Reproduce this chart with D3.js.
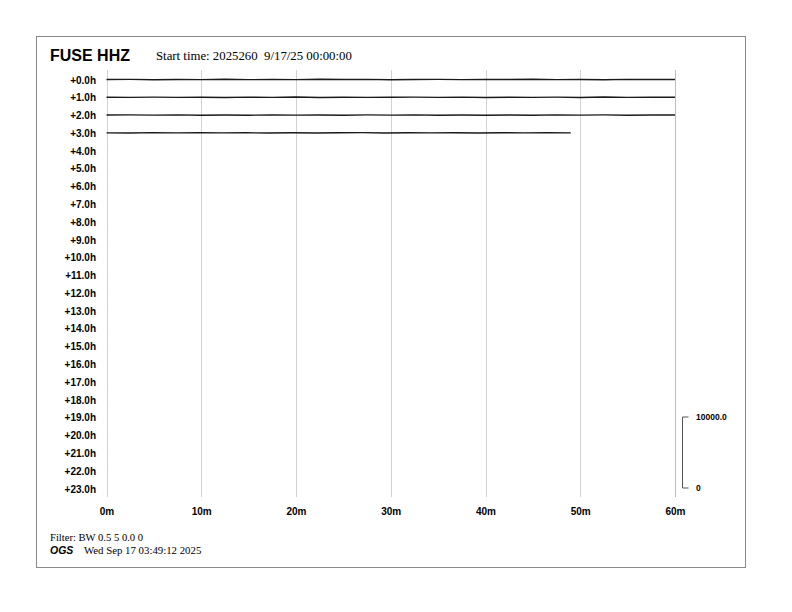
<!DOCTYPE html>
<html>
<head>
<meta charset="utf-8">
<script src="https://cdn.jsdelivr.net/npm/d3@7"></script>
<style>
  html, body { margin: 0; padding: 0; background: #fff; }
  svg { display: block; }
</style>
</head>
<body>
<svg id="chart" width="792" height="612"></svg>
<script>
// Station / header text
const station = "FUSE HHZ";
const startText = "Start time: 2025260  9/17/25 00:00:00";
const filterText = "Filter: BW 0.5 5 0.0 0";
const agency = "OGS";
const stampText = "Wed Sep 17 03:49:12 2025";

// Helicorder rows (hour offsets) and minute ticks
const hourRows = d3.range(0, 24);
const minuteTicks = [0, 10, 20, 30, 40, 50, 60];

// Minutes recorded in each hourly line
const traceMinutes = [60, 60, 60, 49];

// Amplitude samples (counts) along each recorded line
const traceCounts = [
  [0, 20, -30, 10, -20, 30, -20, 10, -20, 30, -10, 20, -30, 10, 20, -20, 10, -10, 30, -20, 10, -30, 20, -10, 0],
  [0, -10, 20, -20, 10, -30, 20, -10, 30, -20, 10, -20, 10, 20, -10, 20, -30, 10, -10, 20, -20, 30, -10, 10, 0],
  [0, 20, -10, 20, -30, 10, -20, 30, -10, 10, -20, 20, -10, 30, -20, 10, -20, 10, -30, 20, -10, 20, -20, 10, 0],
  [0, -20, 30, -10, 20, -10, 20, -30, 10, -20, 10, 30, -20, 10, -10, 20, -30, 20, -10, 10, 0]
];

// Amplitude scale bar
const scaleCounts = [0, 10000];
const scaleLabels = ["0", "10000.0"];

const sans = "'Liberation Sans', Arial, Helvetica, sans-serif";
const serif = "'Liberation Serif', 'Times New Roman', serif";

const svg = d3.select("#chart");

// Frame
svg.append("rect")
  .attr("x", 36.5).attr("y", 36.5)
  .attr("width", 709).attr("height", 531)
  .attr("fill", "none").attr("stroke", "#8a8a8a").attr("stroke-width", 1);

// Scales
const x = d3.scaleLinear().domain([0, 60]).range([106.5, 675]);
const y = d3.scalePoint().domain(hourRows).range([79.5, 488.5]);
// counts -> pixel offset (10000 counts spans ~71 px)
const amp = d3.scaleLinear().domain([0, 10000]).range([0, -71]);

// Vertical grid lines
svg.append("g")
  .selectAll("line")
  .data(minuteTicks)
  .join("line")
  .attr("x1", d => Math.round(x(d)) + 0.5)
  .attr("x2", d => Math.round(x(d)) + 0.5)
  .attr("y1", 70).attr("y2", 497)
  .attr("stroke", d => (d === 60 ? "#bdbdbd" : "#d2d2d2"))
  .attr("stroke-width", 1);

// Hour labels
const yAxis = d3.axisLeft(y).tickSize(0).tickPadding(0)
  .tickFormat(d => "+" + d.toFixed(1) + "h");
const yg = svg.append("g").attr("transform", "translate(96,0)").call(yAxis);
yg.select(".domain").remove();
yg.selectAll("text")
  .attr("font-family", sans).attr("font-weight", "bold")
  .attr("font-size", 10).attr("fill", "#000").attr("dy", "0.35em");

// Minute labels
const xAxis = d3.axisBottom(x).tickValues(minuteTicks).tickSize(0).tickPadding(0)
  .tickFormat(d => d + "m");
const xg = svg.append("g").attr("transform", "translate(0,508)").call(xAxis);
xg.select(".domain").remove();
xg.selectAll("text")
  .attr("font-family", sans).attr("font-weight", "bold")
  .attr("font-size", 10).attr("fill", "#000").attr("dy", "0.71em");

// Seismogram lines
const traces = svg.append("g");
traceMinutes.forEach((mins, i) => {
  const counts = traceCounts[i];
  const t = d3.scaleLinear().domain([0, counts.length - 1]).range([0, mins]);
  const line = d3.line()
    .x((d, j) => x(t(j)))
    .y(d => y(hourRows[i]) + amp(d));
  traces.append("path")
    .datum(counts)
    .attr("d", line)
    .attr("fill", "none")
    .attr("stroke", "#1a1a1a")
    .attr("stroke-width", 1.4);
});

// Amplitude scale bar
const sb = svg.append("g");
const sbX = 682.5;
const sbBase = y(23) - 0.5;
const sbY = d => sbBase + amp(d);
sb.append("line")
  .attr("x1", sbX).attr("x2", sbX)
  .attr("y1", sbY(scaleCounts[1])).attr("y2", sbY(scaleCounts[0]))
  .attr("stroke", "#555").attr("stroke-width", 1);
sb.selectAll("line.tick")
  .data(scaleCounts)
  .join("line").attr("class", "tick")
  .attr("x1", sbX).attr("x2", sbX + 6)
  .attr("y1", d => sbY(d)).attr("y2", d => sbY(d))
  .attr("stroke", "#555").attr("stroke-width", 1);
sb.selectAll("text")
  .data(scaleCounts)
  .join("text")
  .attr("x", 696).attr("y", d => sbY(d))
  .attr("dy", "0.35em")
  .attr("font-family", sans).attr("font-weight", "bold")
  .attr("font-size", 8.5).attr("fill", "#000")
  .text((d, i) => scaleLabels[i]);

// Header
svg.append("text")
  .attr("x", 50).attr("y", 61)
  .attr("font-family", sans).attr("font-weight", "bold")
  .attr("font-size", 16).attr("fill", "#000")
  .text(station);
svg.append("text")
  .attr("x", 156).attr("y", 60)
  .attr("font-family", serif).attr("font-size", 12.8).attr("fill", "#000")
  .attr("xml:space", "preserve").style("white-space", "pre")
  .text(startText);

// Footer
svg.append("text")
  .attr("x", 50).attr("y", 541)
  .attr("font-family", serif).attr("font-size", 10.6).attr("fill", "#000")
  .text(filterText);
svg.append("text")
  .attr("x", 50).attr("y", 554)
  .attr("font-family", sans).attr("font-weight", "bold").attr("font-style", "italic")
  .attr("font-size", 10.5).attr("fill", "#000")
  .text(agency);
svg.append("text")
  .attr("x", 84).attr("y", 554)
  .attr("font-family", serif).attr("font-size", 10.8).attr("fill", "#000")
  .text(stampText);
</script>
</body>
</html>
